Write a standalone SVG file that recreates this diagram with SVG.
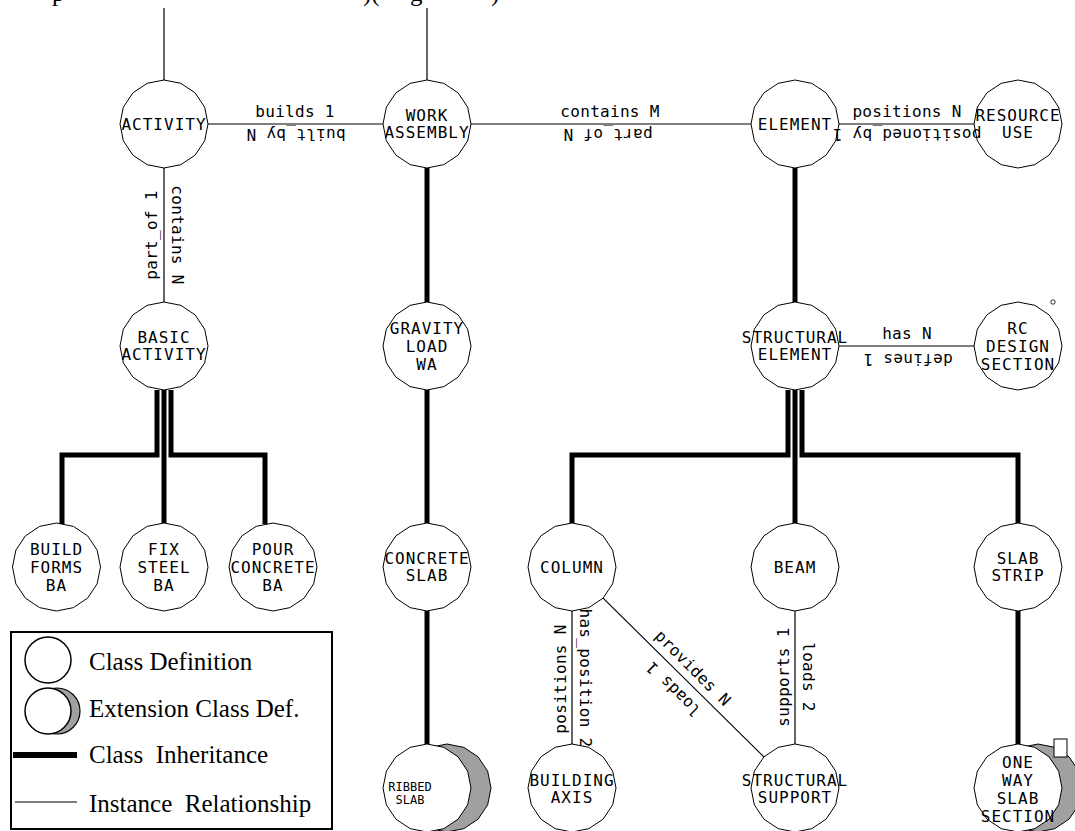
<svg xmlns="http://www.w3.org/2000/svg" width="1075" height="831" viewBox="0 0 1075 831">
<style>
.nd{fill:#fff;stroke:#000;stroke-width:1}
.ex{fill:#a0a0a0;stroke:#000;stroke-width:1}
.nl{font-family:"DejaVu Sans Mono","Liberation Mono",monospace;font-size:16px;letter-spacing:1px;text-anchor:middle;fill:#000}
.sm{font-size:12px;letter-spacing:0px}
.rl{font-family:"DejaVu Sans Mono","Liberation Mono",monospace;font-size:16px;letter-spacing:0.3px;text-anchor:middle;fill:#000}
.inst{fill:none;stroke:#000;stroke-width:1.2}
.inh{fill:none;stroke:#000;stroke-width:5;stroke-linejoin:miter;stroke-linecap:butt}
.lg{font-family:"Liberation Serif","Times New Roman",serif;font-size:25px;fill:#000;white-space:pre}
</style>
<defs>
<polygon id="c" points="0,-44 16.84,-40.65 31.11,-31.11 40.65,-16.84 44,0 40.65,16.84 31.11,31.11 16.84,40.65 0,44 -16.84,40.65 -31.11,31.11 -40.65,16.84 -44,0 -40.65,-16.84 -31.11,-31.11 -16.84,-40.65"/>
</defs>
<rect width="1075" height="831" fill="#fff"/>

<!-- clipped running text from the page above (only descenders are printed in the reference) -->
<text class="lg" y="0.5"><tspan x="52">p</tspan><tspan x="363">)(</tspan><tspan x="410">g</tspan><tspan x="491">)</tspan></text>

<!-- nodes -->
<g id="n-activity"><use href="#c" class="nd" x="164" y="124"/><text class="nl" x="164" y="129.5">ACTIVITY</text></g>
<g id="n-work-assembly"><use href="#c" class="nd" x="427" y="124"/><text class="nl" x="427" y="121">WORK</text><text class="nl" x="427" y="138">ASSEMBLY</text></g>
<g id="n-element"><use href="#c" class="nd" x="795" y="124"/><text class="nl" x="795" y="129.5">ELEMENT</text></g>
<g id="n-resource-use"><use href="#c" class="nd" x="1018" y="124"/><text class="nl" x="1018" y="121">RESOURCE</text><text class="nl" x="1018" y="138">USE</text></g>

<g id="n-basic-activity"><use href="#c" class="nd" x="164" y="346"/><text class="nl" x="164" y="343">BASIC</text><text class="nl" x="164" y="360">ACTIVITY</text></g>
<g id="n-gravity-load-wa"><use href="#c" class="nd" x="427" y="346"/><text class="nl" x="427" y="334">GRAVITY</text><text class="nl" x="427" y="352">LOAD</text><text class="nl" x="427" y="370">WA</text></g>
<g id="n-structural-element"><use href="#c" class="nd" x="795" y="346"/><text class="nl" x="795" y="343">STRUCTURAL</text><text class="nl" x="795" y="360">ELEMENT</text></g>
<g id="n-rc-design-section"><use href="#c" class="nd" x="1018" y="346"/><text class="nl" x="1018" y="334">RC</text><text class="nl" x="1018" y="352">DESIGN</text><text class="nl" x="1018" y="370">SECTION</text></g>

<g id="n-build-forms-ba"><use href="#c" class="nd" x="56.5" y="567"/><text class="nl" x="56.5" y="555">BUILD</text><text class="nl" x="56.5" y="573">FORMS</text><text class="nl" x="56.5" y="591">BA</text></g>
<g id="n-fix-steel-ba"><use href="#c" class="nd" x="164" y="567"/><text class="nl" x="164" y="555">FIX</text><text class="nl" x="164" y="573">STEEL</text><text class="nl" x="164" y="591">BA</text></g>
<g id="n-pour-concrete-ba"><use href="#c" class="nd" x="273" y="567"/><text class="nl" x="273" y="555">POUR</text><text class="nl" x="273" y="573">CONCRETE</text><text class="nl" x="273" y="591">BA</text></g>
<g id="n-concrete-slab"><use href="#c" class="nd" x="427" y="567"/><text class="nl" x="427" y="564">CONCRETE</text><text class="nl" x="427" y="581">SLAB</text></g>
<g id="n-column"><use href="#c" class="nd" x="572" y="567"/><text class="nl" x="572" y="572.5">COLUMN</text></g>
<g id="n-beam"><use href="#c" class="nd" x="795" y="567"/><text class="nl" x="795" y="572.5">BEAM</text></g>
<g id="n-slab-strip"><use href="#c" class="nd" x="1018" y="567"/><text class="nl" x="1018" y="564">SLAB</text><text class="nl" x="1018" y="581">STRIP</text></g>

<g id="n-ribbed-slab"><use href="#c" class="ex" x="447" y="788"/><use href="#c" class="nd" x="427" y="788"/><text class="nl sm" x="410" y="791">RIBBED</text><text class="nl sm" x="410" y="804">SLAB</text></g>
<g id="n-building-axis"><use href="#c" class="nd" x="572" y="788"/><text class="nl" x="572" y="786">BUILDING</text><text class="nl" x="572" y="803">AXIS</text></g>
<g id="n-structural-support"><use href="#c" class="nd" x="795" y="788"/><text class="nl" x="795" y="786">STRUCTURAL</text><text class="nl" x="795" y="803">SUPPORT</text></g>
<g id="n-one-way-slab-section"><use href="#c" class="ex" x="1038" y="788"/><use href="#c" class="nd" x="1018" y="788"/><text class="nl" x="1018" y="768">ONE</text><text class="nl" x="1018" y="786">WAY</text><text class="nl" x="1018" y="804">SLAB</text><text class="nl" x="1018" y="822">SECTION</text></g>

<!-- small stray marks -->
<circle cx="1053" cy="302" r="2.2" fill="none" stroke="#000" stroke-width="0.8"/>
<rect x="1054" y="739" width="13" height="18" fill="#fff" stroke="#000" stroke-width="1"/>

<!-- connectors -->
<g id="connectors">
  <line class="inst" x1="164" y1="8" x2="164" y2="80"/>
  <line class="inst" x1="427" y1="8" x2="427" y2="80"/>
  <line class="inst" x1="208" y1="124" x2="383" y2="124"/>
  <line class="inst" x1="471" y1="124" x2="751" y2="124"/>
  <line class="inst" x1="839" y1="124" x2="974" y2="124"/>
  <line class="inst" x1="164" y1="168" x2="164" y2="302"/>
  <line class="inst" x1="839" y1="346" x2="974" y2="346"/>
  <line class="inst" x1="572" y1="611" x2="572" y2="744"/>
  <line class="inst" x1="603.1" y1="598.1" x2="763.9" y2="756.9"/>
  <line class="inst" x1="795" y1="611" x2="795" y2="744"/>
  <line class="inh" x1="427" y1="168" x2="427" y2="302"/>
  <line class="inh" x1="427" y1="390" x2="427" y2="523"/>
  <line class="inh" x1="427" y1="611" x2="427" y2="744"/>
  <line class="inh" x1="795" y1="168" x2="795" y2="302"/>
  <line class="inh" x1="1018" y1="611" x2="1018" y2="744"/>
  <polyline class="inh" points="157,390 157,455 62,455 62,524"/>
  <polyline class="inh" points="164,390 164,523"/>
  <polyline class="inh" points="171,390 171,455 265,455 265,524"/>
  <polyline class="inh" points="788,390 788,455 572,455 572,523"/>
  <polyline class="inh" points="795,390 795,523"/>
  <polyline class="inh" points="802,390 802,455 1018,455 1018,523"/>
  <text class="rl" transform="translate(295,111)" dy=".35em">builds 1</text>
  <text class="rl" transform="translate(296,135) rotate(180)" dy=".35em">built_by N</text>
  <text class="rl" transform="translate(610,111)" dy=".35em">contains M</text>
  <text class="rl" transform="translate(608,135) rotate(180)" dy=".35em">part_of N</text>
  <text class="rl" transform="translate(907,111)" dy=".35em">positions N</text>
  <text class="rl" transform="translate(907,135) rotate(180)" dy=".35em">positioned_by 1</text>
  <text class="rl" transform="translate(151,235) rotate(-90)" dy=".35em">part_of 1</text>
  <text class="rl" transform="translate(178,235) rotate(90)" dy=".35em">contains N</text>
  <text class="rl" transform="translate(907,333)" dy=".35em">has N</text>
  <text class="rl" transform="translate(908,360) rotate(180)" dy=".35em">defines 1</text>
  <text class="rl" transform="translate(560,679) rotate(-90)" dy=".35em">positions N</text>
  <text class="rl" transform="translate(586,678) rotate(90)" dy=".35em">has_position 2</text>
  <text class="rl" transform="translate(693,668) rotate(45)" dy=".35em">provides N</text>
  <text class="rl" transform="translate(673,689) rotate(225)" dy=".35em">loads 1</text>
  <text class="rl" transform="translate(783,677) rotate(-90)" dy=".35em">supports 1</text>
  <text class="rl" transform="translate(809,677) rotate(90)" dy=".35em">loads 2</text>
</g>

<!-- legend -->
<g id="legend">
  <rect x="11" y="632" width="321" height="197" fill="#fff" stroke="#000" stroke-width="2"/>
  <circle cx="48" cy="660" r="23" fill="#fff" stroke="#000" stroke-width="1.5"/>
  <circle cx="57" cy="711" r="23" fill="#a0a0a0" stroke="#000" stroke-width="1.2"/>
  <circle cx="48" cy="711" r="23" fill="#fff" stroke="#000" stroke-width="1.5"/>
  <line x1="13" y1="755" x2="77" y2="755" stroke="#000" stroke-width="6"/>
  <line x1="15" y1="802" x2="77" y2="802" stroke="#000" stroke-width="1.2"/>
  <text class="lg" x="89" y="670">Class Definition</text>
  <text class="lg" x="89" y="717">Extension Class Def.</text>
  <text class="lg" x="89" y="763">Class  Inheritance</text>
  <text class="lg" x="89" y="812">Instance  Relationship</text>
</g>
</svg>
